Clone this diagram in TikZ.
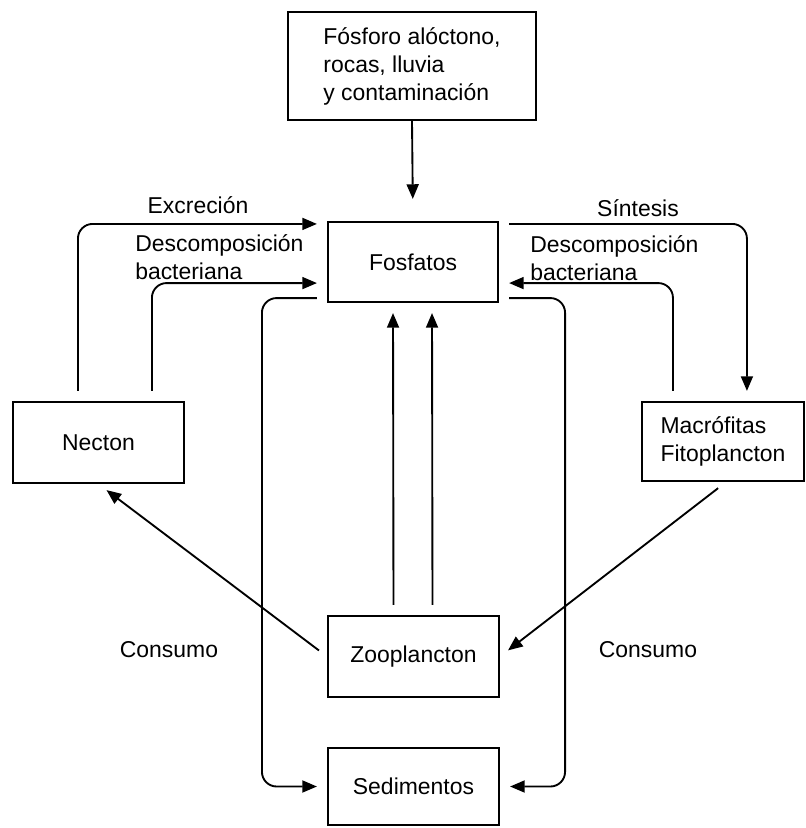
\documentclass[tikz,border=0pt]{standalone}
\usepackage{fontspec}
\setmainfont{Liberation Sans}
\usetikzlibrary{arrows.meta}
\usetikzlibrary{calc}

\begin{document}
\begin{tikzpicture}[x=0.75pt,y=0.75pt,yscale=-1,xscale=1,
  texto/.style={font=\fontsize{17.2}{21}\selectfont,inner sep=0pt,align=left},
  caja/.style={texto,draw,line width=1.6pt},
  flecha/.style={line width=1.4pt,rounded corners=11pt,shorten <=7.5pt,shorten >=7.5pt,-{Triangle[length=11pt,width=9pt]}},
  linea/.style={line width=1.4pt,rounded corners=11pt,shorten <=7.5pt}]
%set diagram size: 806 x 828
\useasboundingbox (0,0) rectangle (806,828);

%Shape: Rectangle [fuente]
\node[caja,minimum width=186pt,minimum height=81pt] (fuente) at (412,66) {Fósforo alóctono,\\rocas, lluvia\\y contaminación};
%Shape: Rectangle [fosfatos]
\node[caja,minimum width=127.5pt,minimum height=60pt] (fosfatos) at (413,262) {Fosfatos};
%Shape: Rectangle [necton]
\node[caja,minimum width=128.25pt,minimum height=60.75pt] (necton) at (98.5,442.5) {Necton};
%Shape: Rectangle [macro]
\node[caja,minimum width=121.5pt,minimum height=59.25pt] (macro) at (723,441.5) {Macrófitas\\Fitoplancton};
%Shape: Rectangle [zoo]
\node[caja,minimum width=128.25pt,minimum height=60.75pt] (zoo) at (413.5,656.5) {Zooplancton};
%Shape: Rectangle [sedimentos]
\node[caja,minimum width=128.25pt,minimum height=57.75pt] (sedimentos) at (413.5,786.5) {Sedimentos};

%Straight Lines [aporte]
\draw[flecha,shorten <=0pt,shorten >=16.5pt] (fuente.south) -- (fosfatos.north);
%Straight Lines [excrecion]
\draw[flecha] ($(necton.north west)+(66,0)$) |- ($(fosfatos.north west)+(0,3)$);
%Straight Lines [descomposicion necton]
\draw[flecha] ($(necton.north west)+(140,0)$) |- ($(fosfatos.south west)+(0,-20)$);
%Straight Lines [sintesis]
\draw[flecha] ($(fosfatos.north east)+(0,3)$) -| ($(macro.north west)+(106,0)$);
%Straight Lines [descomposicion macrofitas]
\draw[flecha] ($(macro.north west)+(32,0)$) |- ($(fosfatos.south east)+(0,-20)$);
%Straight Lines [sedimentacion]
\draw[flecha] ($(fosfatos.south west)+(0,-5)$) -| ($(sedimentos.west)+(-65,0)$) -- (sedimentos.west);
\draw[flecha] ($(fosfatos.south east)+(0,-5)$) -| ($(sedimentos.east)+(65,0)$) -- (sedimentos.east);
%Straight Lines [zooplancton a fosfatos]
\draw[flecha] ($(zoo.north)+(-20,0)$) -- ($(fosfatos.south)+(-20,0)$);
\draw[flecha] ($(zoo.north)+(19,0)$) -- ($(fosfatos.south)+(19,0)$);
%Straight Lines [consumo]
\draw[flecha] (zoo.west) -- (necton.south);
\draw[flecha] ($(macro.south)+(3,0)$) -- (zoo.east);

% Text Node
\node[texto] (excrecion) at (198,205) {Excreción};
% Text Node
\node[texto,anchor=west] (descizq) at (135,257) {Descomposición\\bacteriana};
% Text Node
\node[texto] (sintesis) at (638,208) {Síntesis};
% Text Node
\node[texto,anchor=west] (descder) at (530,258) {Descomposición\\bacteriana};
% Text Node
\node[texto] (consumoizq) at (169,650) {Consumo};
% Text Node
\node[texto] (consumoder) at (648,650) {Consumo};

\end{tikzpicture}
\end{document}
